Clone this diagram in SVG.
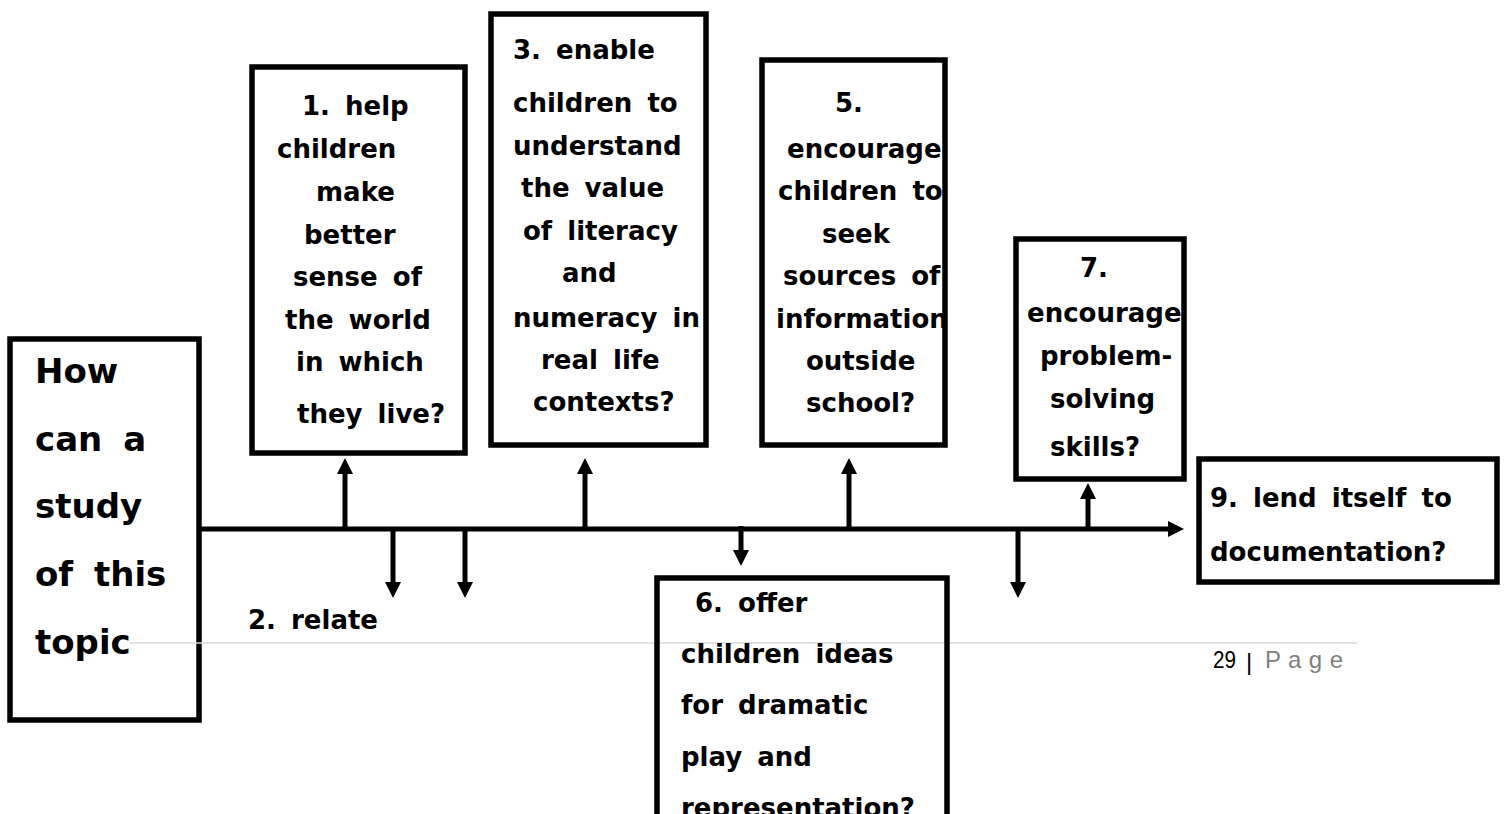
<svg xmlns="http://www.w3.org/2000/svg" width="1504" height="814" viewBox="0 0 1504 814">
<style>
.box{fill:#fff;stroke:#000;stroke-width:5.5}
.t{font-family:"DejaVu Sans","Liberation Sans",sans-serif;font-weight:bold;font-size:26px;fill:#000;word-spacing:6px}
.big{font-size:34px;word-spacing:9px}
.ln{stroke:#000;stroke-width:5;fill:none}
.foot{font-family:"Liberation Sans",Arial,sans-serif;font-size:24px}
</style>
<defs>
<marker id="ah" markerUnits="userSpaceOnUse" markerWidth="17" markerHeight="17" refX="0" refY="8" orient="auto" viewBox="0 0 17 16">
<path d="M0,0 L16,8 L0,16 z" fill="#000"/>
</marker>
</defs>
<rect width="1504" height="814" fill="#fff"/>

<g id="n0">
<rect class="box" x="10" y="339" width="189" height="381"/>
<text class="t big" x="35" y="383">How</text>
<text class="t big" x="35" y="451">can a</text>
<text class="t big" x="35" y="518">study</text>
<text class="t big" x="35" y="586">of this</text>
<text class="t big" x="35" y="654">topic</text>
</g>

<line x1="130" y1="643" x2="1357" y2="643" stroke="#d9d9d9" stroke-width="1.5"/>

<g id="connectors">
<line class="ln" x1="199" y1="529" x2="1168" y2="529" marker-end="url(#ah)"/>
<line class="ln" x1="345" y1="529" x2="345" y2="474" marker-end="url(#ah)"/>
<line class="ln" x1="585" y1="529" x2="585" y2="474" marker-end="url(#ah)"/>
<line class="ln" x1="849" y1="529" x2="849" y2="474" marker-end="url(#ah)"/>
<line class="ln" x1="1088" y1="529" x2="1088" y2="499" marker-end="url(#ah)"/>
<line class="ln" x1="393" y1="529" x2="393" y2="582" marker-end="url(#ah)"/>
<line class="ln" x1="465" y1="529" x2="465" y2="582" marker-end="url(#ah)"/>
<line class="ln" x1="741" y1="526" x2="741" y2="550" marker-end="url(#ah)"/>
<line class="ln" x1="1018" y1="529" x2="1018" y2="582" marker-end="url(#ah)"/>
</g>

<g id="n1">
<rect class="box" x="252" y="67" width="213" height="386"/>
<text class="t" x="302" y="115">1. help</text>
<text class="t" x="277" y="158">children</text>
<text class="t" x="316" y="201">make</text>
<text class="t" x="304" y="244">better</text>
<text class="t" x="293" y="286">sense of</text>
<text class="t" x="285" y="329">the world</text>
<text class="t" x="296" y="371">in which</text>
<text class="t" x="297" y="423">they live?</text>
</g>

<g id="n2">
<text class="t" x="248" y="629">2. relate</text>
</g>

<g id="n3">
<rect class="box" x="491" y="14" width="215" height="431"/>
<text class="t" x="513" y="59">3. enable</text>
<text class="t" x="513" y="112">children to</text>
<text class="t" x="513" y="155">understand</text>
<text class="t" x="521" y="197">the value</text>
<text class="t" x="523" y="240">of literacy</text>
<text class="t" x="562" y="282">and</text>
<text class="t" x="513" y="327">numeracy in</text>
<text class="t" x="541" y="369">real life</text>
<text class="t" x="533" y="411">contexts?</text>
</g>

<g id="n5">
<rect class="box" x="762" y="60" width="183" height="385"/>
<text class="t" x="835" y="112">5.</text>
<text class="t" x="787" y="158">encourage</text>
<text class="t" x="778" y="200">children to</text>
<text class="t" x="822" y="243">seek</text>
<text class="t" x="783" y="285">sources of</text>
<text class="t" x="776" y="328">information</text>
<text class="t" x="806" y="370">outside</text>
<text class="t" x="806" y="412">school?</text>
</g>

<g id="n6">
<rect class="box" x="657" y="578" width="290" height="300"/>
<line x1="660" y1="643" x2="944" y2="643" stroke="#d9d9d9" stroke-width="1.5"/>
<text class="t" x="695" y="612">6. offer</text>
<text class="t" x="681" y="663">children ideas</text>
<text class="t" x="681" y="714">for dramatic</text>
<text class="t" x="681" y="766">play and</text>
<text class="t" x="681" y="817">representation?</text>
</g>

<g id="n7">
<rect class="box" x="1016" y="239" width="168" height="240"/>
<text class="t" x="1080" y="277">7.</text>
<text class="t" x="1027" y="322">encourage</text>
<text class="t" x="1040" y="365">problem-</text>
<text class="t" x="1050" y="408">solving</text>
<text class="t" x="1050" y="456">skills?</text>
</g>

<g id="n9">
<rect class="box" x="1199" y="459" width="298" height="123"/>
<text class="t" x="1210" y="507">9. lend itself to</text>
<text class="t" x="1210" y="561">documentation?</text>
</g>

<g id="footer">
<text class="foot" x="1213" y="668" fill="#000" textLength="23" lengthAdjust="spacingAndGlyphs">29</text>
<text class="foot" x="1246" y="670" fill="#000" font-size="27">|</text>
<text class="foot" x="1265" y="668" fill="#7f7f7f" textLength="78" lengthAdjust="spacing">P a g e</text>
</g>
</svg>
